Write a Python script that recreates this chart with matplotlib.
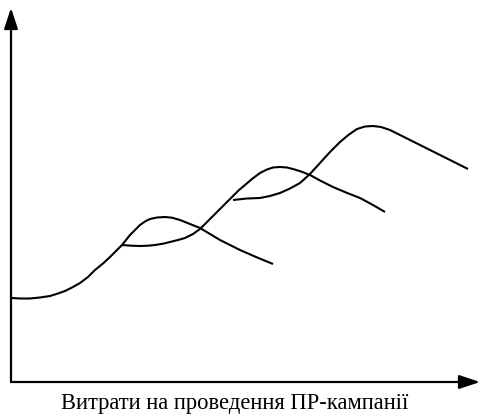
import matplotlib
matplotlib.use('Agg')
import matplotlib.pyplot as plt

# три криві ефективності ПР-кампаній (умовні одиниці)
curve1_x = [0, 10, 19, 29, 39, 47, 54, 62, 69, 77, 84, 92, 99, 105, 111, 115, 119, 124,
            129, 134, 139, 146, 154, 161, 169, 179, 189, 199, 209, 219, 229, 245, 262]
curve1_y = [84, 83.5, 83.5, 84.5, 86, 88.5, 91, 95, 99, 105, 112, 118.5, 125, 131, 137,
            142, 147, 152, 157, 160.5, 163, 164.5, 165, 164.3, 162, 158, 154, 148, 142,
            137, 132, 125, 118]

curve2_x = [111, 120, 129, 137, 144, 152, 159, 167, 174, 182, 189, 196, 204, 213, 222, 228,
            234, 241, 249, 256, 262, 269, 276, 282, 290, 299, 310, 322, 335, 349, 362, 374]
curve2_y = [137, 136.3, 136, 136.3, 137, 138.3, 140, 142, 144, 148, 153, 160, 168, 177, 186,
            192, 197, 203, 209, 212.5, 214.5, 215, 214.5, 213, 210.5, 207, 201, 195, 189.5,
            184, 177, 170]

curve3_x = [222, 236, 249, 259, 269, 279, 289, 299, 309, 319, 329, 338, 346, 354, 362, 370,
            379, 389, 399, 409, 419, 429, 439, 448, 457]
curve3_y = [182, 183.5, 184, 186, 189, 193.5, 199, 208, 219, 230, 240, 247.5, 253, 255.5,
            256, 255, 252, 247, 242, 237, 232, 227, 222, 217.5, 213]

xlabel = 'Витрати на проведення ПР-кампанії'

fig = plt.figure(figsize=(4.81, 4.16), dpi=100)
ax = fig.add_axes([11 / 481, 34 / 416, 470 / 481, 382 / 416])
ax.set_xlim(0, 470)
ax.set_ylim(0, 382)
ax.axis('off')

for xs, ys in [(curve1_x, curve1_y), (curve2_x, curve2_y), (curve3_x, curve3_y)]:
    ax.plot(xs, ys, color='black', lw=1.5, solid_joinstyle='round', solid_capstyle='butt')

# осі зі стрілками
arrow = dict(arrowstyle='-|>,head_length=0.9,head_width=0.3', color='black', lw=1.6,
             shrinkA=0, shrinkB=0, mutation_scale=14)
ax.annotate('', xy=(0, 374 / 382), xytext=(0, 0), xycoords='axes fraction', arrowprops=arrow)
ax.annotate('', xy=(469 / 470, 0), xytext=(0, 0), xycoords='axes fraction', arrowprops=arrow)

fig.text(235 / 481, 1 - 403 / 416, xlabel, ha='center', va='center',
         fontsize=16.3, family='Liberation Serif')

fig.savefig('out.png', dpi=100)
